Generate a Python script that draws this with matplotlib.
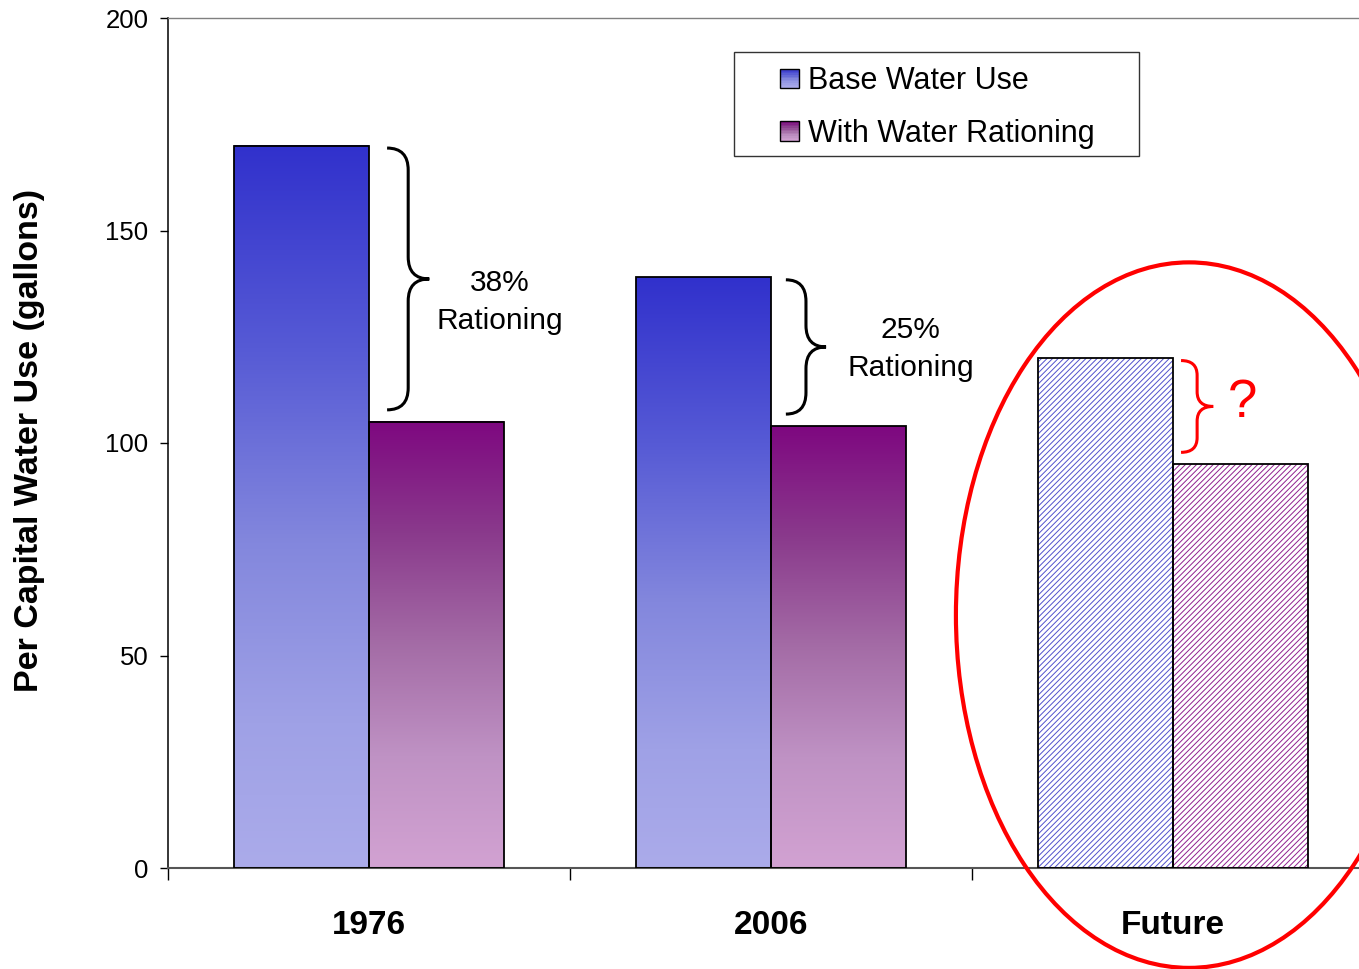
import numpy as np
import matplotlib
matplotlib.use("Agg")
import matplotlib.pyplot as plt
from matplotlib.colors import LinearSegmentedColormap
from matplotlib.patches import Rectangle, Ellipse, PathPatch
from matplotlib.path import Path
from matplotlib.legend_handler import HandlerBase

plt.rcParams['font.family'] = ['Liberation Sans', 'DejaVu Sans']
plt.rcParams['hatch.linewidth'] = 0.7

# per capita use, gallons
years = ['1976', '2006', 'Future']
base_use = [170, 139, 120]
rationed_use = [105, 104, 95]
projected = [False, False, True]
notes = ['38%\nRationing', '25%\nRationing', '?']
series_labels = ['Base Water Use', 'With Water Rationing']

blue_cmap = LinearSegmentedColormap.from_list(
    'base', [(0, '#3131CC'), (0.28, '#565AD5'), (0.55, '#8387DD'),
             (0.8, '#9FA1E6'), (1, '#ABABEA')])
purple_cmap = LinearSegmentedColormap.from_list(
    'rationed', [(0, '#7E0880'), (0.25, '#8A3A8C'), (0.5, '#A46CA6'),
                 (0.75, '#BF92C4'), (1, '#D2A2D2')])


class GradientSquare(HandlerBase):
    def __init__(self, cmap):
        super().__init__()
        self.cmap = cmap

    def create_artists(self, legend, orig_handle, xdescent, ydescent,
                       width, height, fontsize, trans):
        s = height
        x0 = -xdescent + width - s
        y0 = -ydescent
        n = 12
        arts = []
        for k in range(n):
            c = self.cmap(1 - (k + 0.5) / n)
            arts.append(Rectangle((x0, y0 + s * k / n), s, s / n, facecolor=c,
                                  edgecolor='none', transform=trans))
        arts.append(Rectangle((x0, y0), s, s, facecolor='none',
                              edgecolor='black', linewidth=1, transform=trans))
        return arts


def gradient_bar(ax, xc, h, w, cmap):
    grad = cmap(np.linspace(0, 1, 256))[:, None, :]
    ax.imshow(grad, extent=[xc - w / 2, xc + w / 2, 0, h], origin='upper',
              aspect='auto', interpolation='bilinear', zorder=1)


def draw_brace(ax, x0, x1, ytop, ybot, color):
    # right-facing curly brace between ytop and ybot
    py = ax.transData.transform((0, 1))[1] - ax.transData.transform((0, 0))[1]
    span_px = (ytop - ybot) * py
    rv = min(22, span_px * 0.16) / py
    xs = (x0 + x1) / 2
    ym = (ytop + ybot) / 2
    verts = [(x0, ytop), (xs, ytop), (xs, ytop - rv),
             (xs, ym + rv),
             (xs, ym), (x1, ym),
             (xs, ym), (xs, ym - rv),
             (xs, ybot + rv),
             (xs, ybot), (x0, ybot)]
    codes = [Path.MOVETO, Path.CURVE3, Path.CURVE3,
             Path.LINETO,
             Path.CURVE3, Path.CURVE3,
             Path.CURVE3, Path.CURVE3,
             Path.LINETO,
             Path.CURVE3, Path.CURVE3]
    ax.add_patch(PathPatch(Path(verts, codes), facecolor='none',
                           edgecolor=color, linewidth=2.2, zorder=4))


fig = plt.figure(figsize=(13.59, 9.69), dpi=100)
ax = fig.add_axes([168 / 1359, 101 / 969, 1206 / 1359, 850 / 969])

x = np.arange(len(years))
width = 0.335

for i in range(len(years)):
    for off, vals, cmap, hcol in [(-width / 2, base_use, blue_cmap, '#5050CC'),
                                  (width / 2, rationed_use, purple_cmap, '#902090')]:
        xc = x[i] + off
        if projected[i]:
            ax.bar(xc, vals[i], width, color='white', edgecolor=hcol,
                   hatch='//////', linewidth=0, zorder=2)
        else:
            gradient_bar(ax, xc, vals[i], width, cmap)
        ax.bar(xc, vals[i], width, facecolor='none', edgecolor='black',
               linewidth=1.3, zorder=3)

ax.set_xlim(-0.5, 2.5)
ax.set_ylim(0, 200)

# braces and notes
brace_x = [(0.045, 0.15), (0.037, 0.137), (0.02, 0.10)]
brace_col = ['black', 'black', '#FF0000']
note_pos = [(0.326, 133.2), (1.348, 122.1), (2.174, 109.4)]
for i in range(len(years)):
    draw_brace(ax, x[i] + brace_x[i][0], x[i] + brace_x[i][1],
               base_use[i] - 0.6, rationed_use[i] + 2.8, brace_col[i])
    if projected[i]:
        ax.text(*note_pos[i], notes[i], color='#FF0000', fontsize=38,
                ha='center', va='center')
    else:
        ax.text(*note_pos[i], notes[i], fontsize=21.5, ha='center',
                va='center', linespacing=1.45)

ax.add_patch(Ellipse((2.04, 59.5), 1.16, 166, fill=False, edgecolor='#FF0000',
                     linewidth=3, clip_on=False, zorder=5))

# axes styling
ax.set_xticks([-0.5, 0.5, 1.5, 2.5])
ax.set_xticklabels([])
ax.set_xticks(x, minor=True)
ax.set_xticklabels(years, minor=True, fontsize=24, fontweight='bold')
ax.tick_params(axis='x', which='major', direction='out', length=8.5, width=1)
ax.tick_params(axis='x', which='minor', length=0, pad=30.5)
ax.set_yticks([0, 50, 100, 150, 200])
ax.tick_params(axis='y', direction='out', length=6, width=1, labelsize=18.5, pad=8)
ax.spines['left'].set_color('black')
ax.spines['left'].set_linewidth(1.1)
ax.spines['bottom'].set_color('#555555')
ax.spines['bottom'].set_linewidth(1.5)
ax.spines['top'].set_color('#808080')
ax.spines['top'].set_linewidth(1)
ax.spines['right'].set_visible(False)

fig.text(30 / 1359, 1 - 440 / 969, 'Per Capital Water Use (gallons)',
         rotation=90, fontsize=24.5, fontweight='bold', ha='center', va='center')

# legend
h_base = Rectangle((0, 0), 1, 1)
h_rat = Rectangle((0, 0), 1, 1)
ax.legend([h_base, h_rat], series_labels,
          handler_map={h_base: GradientSquare(blue_cmap),
                       h_rat: GradientSquare(purple_cmap)},
          loc='upper left', bbox_to_anchor=(781 / 1359, 1 - 66 / 969),
          bbox_transform=fig.transFigure, frameon=False, fontsize=22,
          handlelength=0.6, handleheight=0.6, handletextpad=0.3,
          labelspacing=0.75, borderpad=0, borderaxespad=0)
fig.add_artist(Rectangle((734 / 1359, 1 - 156 / 969), 405 / 1359, 104 / 969,
                         transform=fig.transFigure, fill=False,
                         edgecolor='#333333', linewidth=1))

fig.savefig('out.png', dpi=100)
